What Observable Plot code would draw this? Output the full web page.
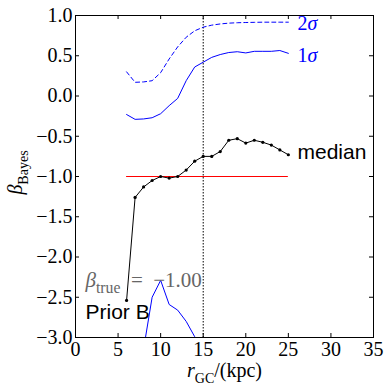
<!DOCTYPE html>
<html><head><meta charset="utf-8">
<script src="https://cdn.jsdelivr.net/npm/d3@7"></script>
<script src="https://cdn.jsdelivr.net/npm/@observablehq/plot@0.6"></script>
<style>body{margin:0;background:#fff} svg{display:block}</style>
</head><body><div id="chart"></div>
<script>
const radius = [6,7,8,9,10,11,12,13,14,15,16,17,18,19,20,21,22,23,24,25];
const median = [-2.54,-1.26,-1.13,-1.05,-1.00,-1.02,-1.00,-0.92,-0.81,-0.75,-0.75,-0.69,-0.55,-0.53,-0.585,-0.55,-0.575,-0.61,-0.67,-0.73];
const upper1 = [-0.23,-0.29,-0.285,-0.27,-0.22,-0.12,-0.03,0.19,0.36,0.42,0.48,0.515,0.54,0.55,0.535,0.555,0.555,0.555,0.565,0.53];
const upper2 = [0.30,0.17,0.175,0.19,0.29,0.46,0.61,0.73,0.81,0.855,0.88,0.895,0.905,0.91,0.913,0.915,0.917,0.917,0.917,0.917];
const lowerRadius = [8,9,10,11,12,13,14,15];
const lower1 = [-3.14,-2.50,-2.29,-2.59,-2.66,-2.80,-2.99,-3.2];
const trueBeta = -1;
const trueRange = [6,25];
const cutRadius = 15;
const xTicks = [0,5,10,15,20,25,30,35];
const yTicks = [-3,-2.5,-2,-1.5,-1,-0.5,0,0.5,1];

const W=390, H=390, mL=75, mR=17, mT=15, mB=53;
const fw = W-mL-mR, fh = H-mT-mB;
const rows = (xs, ys) => xs.map((x,i)=>({x, y: ys[i]}));
const blue = "#0000ff";
const sans = "\"Liberation Sans\", Arial, sans-serif";
const serif = "\"Liberation Serif\", \"Times New Roman\", serif";

const chart = Plot.plot({
  width: W, height: H, marginLeft: mL, marginRight: mR, marginTop: mT, marginBottom: mB,
  style: {fontSize: "20px", background: "#fff", color: "#000"},
  x: {domain: [0,35]},
  y: {domain: [-3,1]},
  marks: [
    Plot.ruleX([cutRadius], {stroke: "#000", strokeDasharray: "1.5,1.5", strokeWidth: 1}),
    Plot.ruleY([trueBeta], {x1: trueRange[0], x2: trueRange[1], stroke: "#ff0000", strokeWidth: 1}),
    Plot.line(rows(radius, upper2), {x: "x", y: "y", stroke: blue, strokeWidth: 1, strokeDasharray: "4,3", clip: true}),
    Plot.line(rows(radius, upper1), {x: "x", y: "y", stroke: blue, strokeWidth: 1, clip: true}),
    Plot.line(rows(lowerRadius, lower1), {x: "x", y: "y", stroke: blue, strokeWidth: 1, clip: true}),
    Plot.line(rows(radius, median), {x: "x", y: "y", stroke: "#000", strokeWidth: 1}),
    Plot.dot(rows(radius, median), {x: "x", y: "y", r: 1.6, fill: "#000", stroke: null}),
    // inward ticks on all four sides
    Plot.ruleX(xTicks, {x: d => d, insetTop: fh-4, stroke: "#000"}),
    Plot.ruleX(xTicks, {x: d => d, insetBottom: fh-4, stroke: "#000"}),
    Plot.ruleY(yTicks, {y: d => d, insetRight: fw-4, stroke: "#000"}),
    Plot.ruleY(yTicks, {y: d => d, insetLeft: fw-4, stroke: "#000"}),
    Plot.frame({stroke: "#000", strokeWidth: 1}),
    Plot.axisX({ticks: xTicks, tickSize: 0, tickPadding: 4, label: null, tickFormat: d3.format("d"), fontSize: 20}),
    Plot.axisY({ticks: yTicks, tickSize: 0, tickPadding: 3, label: null, tickFormat: d3.format(".1f"), fontSize: 20}),
    Plot.text(["2σ"], {x: 26.07, y: 0.905, text: d => d, fill: blue, textAnchor: "start", lineAnchor: "middle", fontSize: 20}),
    Plot.text(["1σ"], {x: 26.07, y: 0.50, text: d => d, fill: blue, textAnchor: "start", lineAnchor: "middle", fontSize: 20}),
    Plot.text(["median"], {x: 26.07, y: -0.70, text: d => d, fill: "#000", textAnchor: "start", lineAnchor: "middle", fontSize: 21}),
    Plot.text(["βtrue = −1.00"], {x: 1.17, y: -2.29, text: d => d, fill: "#666", textAnchor: "start", lineAnchor: "middle", fontSize: 21}),
    Plot.text(["Prior B"], {x: 1.17, y: -2.69, text: d => d, fill: "#000", textAnchor: "start", lineAnchor: "middle", fontSize: 21}),
    Plot.text(["rGC/(kpc)"], {frameAnchor: "bottom", dy: 33, text: d => d, textAnchor: "middle", lineAnchor: "middle", fontSize: 20}),
    Plot.text(["βBayes"], {frameAnchor: "left", dx: -60, dy: -4, rotate: -90, text: d => d, textAnchor: "middle", lineAnchor: "middle", fontSize: 20})
  ]
});

// fonts: serif everywhere (inline style wins over Plot's stylesheet), sans for two labels
d3.select(chart).selectAll("text").style("font-family", serif);
d3.select(chart).selectAll("text").filter(function(){ return this.textContent === "median" || this.textContent === "Prior B"; })
  .style("font-family", sans);

function mathify(root, placeholder, parts, base, subScale = 0.7) {
  d3.select(root).selectAll("text").filter(function(){ return this.textContent === placeholder; }).each(function(){
    const t = d3.select(this);
    t.text(null);
    let inSub = false;
    const shift = base * 0.3;
    parts.forEach(p => {
      const ts = t.append("tspan").text(p.t);
      if (p.i) ts.style("font-style", "italic");
      if (p.sub) {
        ts.style("font-size", (base * subScale) + "px");
        if (!inSub) ts.attr("dy", shift);
        inSub = true;
      } else if (inSub) {
        ts.attr("dy", -shift);
        inSub = false;
      }
    });
  });
}
mathify(chart, "2σ", [{t: "2"}, {t: "σ", i: true}], 20);
mathify(chart, "1σ", [{t: "1"}, {t: "σ", i: true}], 20);
mathify(chart, "βtrue = −1.00", [{t: "β", i: true}, {t: "true", sub: true}, {t: "\u2002=\u2002−1.00"}], 21, 0.75);
mathify(chart, "rGC/(kpc)", [{t: "r", i: true}, {t: "GC", sub: true}, {t: "/(kpc)"}], 20);
mathify(chart, "βBayes", [{t: "β", i: true}, {t: "Bayes", sub: true}], 20);

document.getElementById("chart").appendChild(chart);
</script>
</body></html>
